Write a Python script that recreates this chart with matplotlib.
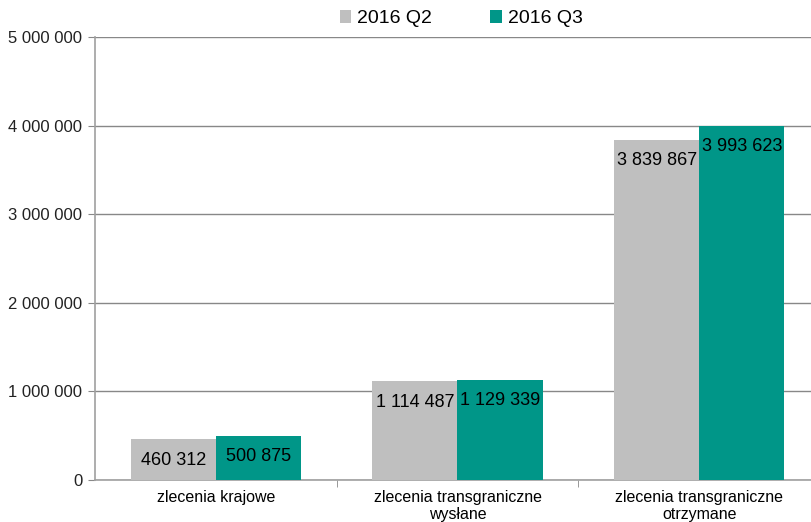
import numpy as np
import matplotlib.pyplot as plt
from matplotlib.ticker import FuncFormatter

plt.rcParams['font.family'] = ['Liberation Sans', 'DejaVu Sans']

categories = ['zlecenia krajowe', 'zlecenia transgraniczne\nwysłane', 'zlecenia transgraniczne\notrzymane']
q2 = [460312, 1114487, 3839867]
q3 = [500875, 1129339, 3993623]
series_names = ['2016 Q2', '2016 Q3']
colors = ['#BFBFBF', '#009688']


def fmt(v, pos=None):
    return f'{int(v):,}'.replace(',', ' ')


fig = plt.figure(figsize=(8.11, 5.22), dpi=100)
ax = fig.add_axes([95 / 811, 42 / 522, 725 / 811, 443 / 522])

x = np.arange(len(categories))
w = 0.352
b1 = ax.bar(x - w / 2, q2, w, color=colors[0], label=series_names[0], zorder=3)
b2 = ax.bar(x + w / 2, q3, w, color=colors[1], label=series_names[1], zorder=3)

# data labels just below the top of each bar
for bars in (b1, b2):
    for r in bars:
        ax.annotate(fmt(r.get_height()), (r.get_x() + r.get_width() / 2, r.get_height()),
                    xytext=(0, -15), textcoords='offset points', ha='center', va='center',
                    fontsize=13, color='black', zorder=4)

ax.set_xlim(-0.5, 2.5)
ax.set_ylim(0, 5000000)
ax.set_yticks(np.arange(0, 5000001, 1000000))
ax.yaxis.set_major_formatter(FuncFormatter(fmt))
ax.yaxis.grid(True, color='#888888', linewidth=1, zorder=0)

ax.set_xticks(x)
ax.set_xticklabels(categories, fontsize=11.5, family=['Liberation Sans Narrow', 'Liberation Sans'],
                   linespacing=1.2)
ax.set_xticks([0.5, 1.5], minor=True)
ax.tick_params(axis='x', which='major', length=0, pad=7)
ax.tick_params(axis='x', which='minor', length=5, color='#888888')
ax.tick_params(axis='y', length=5, color='#888888', labelsize=12, labelcolor='#222222', pad=4)

for s in ['top', 'right']:
    ax.spines[s].set_visible(False)
for s in ['left', 'bottom']:
    ax.spines[s].set_color('#A0A0A0')
    ax.spines[s].set_linewidth(1.2)

ax.legend(loc='upper center', bbox_to_anchor=(0.505, 1.1), ncol=2, frameon=False,
          fontsize=14, handlelength=0.6, handleheight=0.6, handletextpad=0.3,
          columnspacing=3.0)

fig.savefig('out.png', dpi=100)
